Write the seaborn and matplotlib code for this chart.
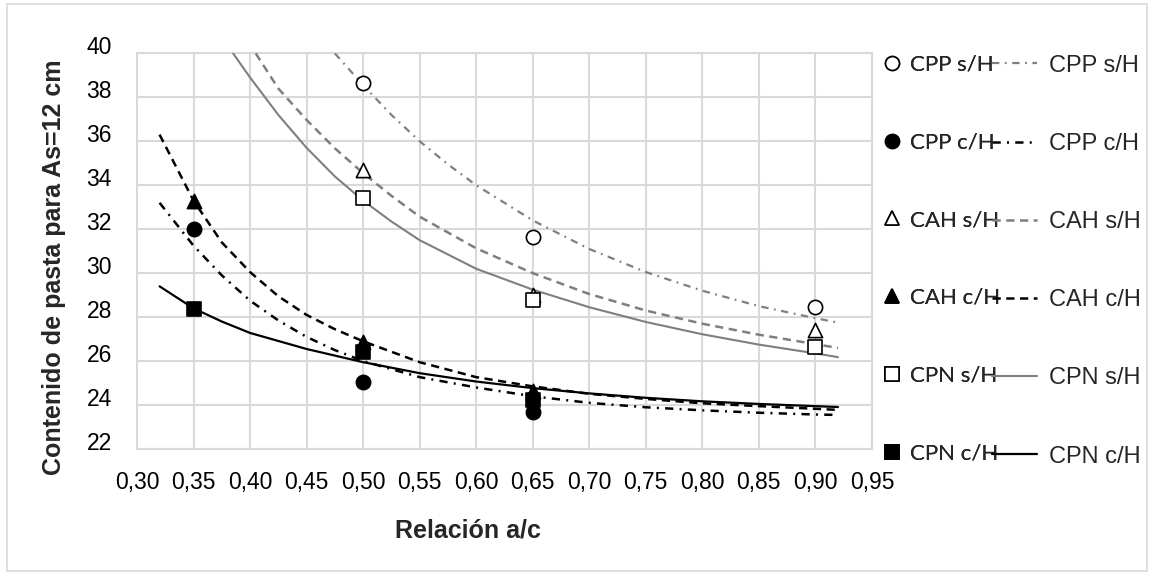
import matplotlib
matplotlib.use("Agg")
import matplotlib.pyplot as plt
import matplotlib.transforms as mtransforms
from matplotlib.lines import Line2D
from matplotlib.patches import Rectangle
from matplotlib.ticker import FuncFormatter
import pandas as pd
import seaborn as sns

sns.set_theme(style="whitegrid")
plt.rcParams['font.family'] = ['Liberation Sans', 'DejaVu Sans']

# measured points (a/c ratio, paste content)
cpp_sh_x = [0.50, 0.65, 0.90]
cpp_sh_y = [38.65, 31.65, 28.45]
cpp_ch_x = [0.35, 0.50, 0.65]
cpp_ch_y = [32.0, 25.05, 23.7]
cah_sh_x = [0.50, 0.65, 0.90]
cah_sh_y = [34.7, 29.0, 27.4]
cah_ch_x = [0.35, 0.50, 0.65]
cah_ch_y = [33.3, 26.85, 24.65]
cpn_sh_x = [0.50, 0.65, 0.90]
cpn_sh_y = [33.4, 28.8, 26.65]
cpn_ch_x = [0.35, 0.50, 0.65]
cpn_ch_y = [28.35, 26.4, 24.25]

# trend lines, values
tr_cpp_sh_x = [0.475, 0.50, 0.525, 0.55, 0.575, 0.60, 0.65, 0.70, 0.75, 0.80, 0.85, 0.90, 0.92]
tr_cpp_sh_y = [40.0, 38.55, 37.2, 36.0, 34.95, 34.0, 32.4, 31.1, 30.05, 29.2, 28.5, 27.95, 27.75]
tr_cah_sh_x = [0.405, 0.425, 0.45, 0.475, 0.50, 0.525, 0.55, 0.60, 0.65, 0.70, 0.75, 0.80, 0.85, 0.90, 0.92]
tr_cah_sh_y = [40.0, 38.4, 36.97, 35.68, 34.55, 33.52, 32.57, 31.13, 30.0, 29.05, 28.3, 27.7, 27.2, 26.77, 26.6]
tr_cpn_sh_x = [0.385, 0.40, 0.425, 0.45, 0.475, 0.50, 0.525, 0.55, 0.60, 0.65, 0.70, 0.75, 0.80, 0.85, 0.90, 0.92]
tr_cpn_sh_y = [40.0, 38.9, 37.2, 35.7, 34.4, 33.3, 32.35, 31.5, 30.2, 29.25, 28.45, 27.78, 27.22, 26.75, 26.35, 26.18]
tr_ch_x = [0.32, 0.35, 0.375, 0.40, 0.425, 0.45, 0.475, 0.50, 0.55, 0.60, 0.65, 0.70, 0.75, 0.80, 0.85, 0.90, 0.92]
tr_cah_ch_y = [36.3, 33.3, 31.4, 30.05, 28.95, 28.1, 27.45, 26.9, 25.95, 25.27, 24.85, 24.51, 24.28, 24.08, 23.95, 23.83, 23.78]
tr_cpp_ch_y = [33.2, 31.25, 29.9, 28.75, 27.85, 27.1, 26.5, 26.0, 25.27, 24.8, 24.4, 24.1, 23.9, 23.76, 23.65, 23.57, 23.55]
tr_cpn_ch_x = [0.32, 0.35, 0.375, 0.40, 0.45, 0.50, 0.55, 0.60, 0.65, 0.70, 0.75, 0.80, 0.85, 0.90, 0.92]
tr_cpn_ch_y = [29.4, 28.4, 27.8, 27.28, 26.55, 25.95, 25.45, 25.07, 24.77, 24.53, 24.33, 24.17, 24.05, 23.95, 23.91]

labels = ["CPP s/H", "CPP c/H", "CAH s/H", "CAH c/H", "CPN s/H", "CPN c/H"]
x_ticks = [0.30, 0.35, 0.40, 0.45, 0.50, 0.55, 0.60, 0.65, 0.70, 0.75, 0.80, 0.85, 0.90, 0.95]
y_ticks = [22, 24, 26, 28, 30, 32, 34, 36, 38, 40]

GRAY = "#7f7f7f"
GRID = "#d9d9d9"
DASH = (0, (3.3, 2.2))
DASHDOT = (0, (3.3, 2.5, 0.8, 2.5))

fig = plt.figure(figsize=(11.5, 5.75), dpi=100)
ax = fig.add_axes([0.1191, 0.2191, 0.6391, 0.6882])

trends = [
    (tr_cpp_sh_x, tr_cpp_sh_y, GRAY, DASHDOT, 1.6),
    (tr_ch_x, tr_cpp_ch_y, "black", DASHDOT, 1.8),
    (tr_cah_sh_x, tr_cah_sh_y, GRAY, DASH, 1.8),
    (tr_ch_x, tr_cah_ch_y, "black", DASH, 1.8),
    (tr_cpn_sh_x, tr_cpn_sh_y, GRAY, "-", 1.5),
    (tr_cpn_ch_x, tr_cpn_ch_y, "black", "-", 1.6),
]
for tx, ty, col, ls, lw in trends:
    df = pd.DataFrame({"x": tx, "y": ty})
    sns.lineplot(data=df, x="x", y="y", ax=ax, color=col, linestyle=ls, lw=lw, zorder=3)

points = [
    (cpp_sh_x, cpp_sh_y, "o", "white"),
    (cpp_ch_x, cpp_ch_y, "o", "black"),
    (cah_sh_x, cah_sh_y, "^", "white"),
    (cah_ch_x, cah_ch_y, "^", "black"),
    (cpn_sh_x, cpn_sh_y, "s", "white"),
    (cpn_ch_x, cpn_ch_y, "s", "black"),
]
for px, py, mk, fc in points:
    df = pd.DataFrame({"x": px, "y": py})
    sns.scatterplot(data=df, x="x", y="y", ax=ax, marker=mk, s=105,
                    facecolor=fc, edgecolor="black", linewidth=1.2, zorder=4)

ax.set_xlim(0.30, 0.95)
ax.set_ylim(22, 40)
ax.set_xticks(x_ticks)
ax.set_yticks(y_ticks)
ax.xaxis.set_major_formatter(FuncFormatter(lambda v, p: f"{v:.2f}".replace(".", ",")))
ax.grid(True, color=GRID, lw=1.5)
for sp in ax.spines.values():
    sp.set_color(GRID)
    sp.set_linewidth(1.5)
ax.tick_params(axis="x", length=0, pad=16, labelsize=16.5, colors="black")
ax.tick_params(axis="y", length=0, pad=18, labelsize=16.5, colors="black")
shift = mtransforms.ScaledTranslation(0, 0.08, fig.dpi_scale_trans)
for t in ax.yaxis.get_major_ticks():
    t.label1.set_transform(t.label1.get_transform() + shift)

ax.set_xlabel("Relación a/c", fontsize=18, fontweight="bold")
ax.set_ylabel("Contenido de pasta para As=12 cm", fontsize=18, fontweight="bold")
ax.xaxis.set_label_coords(0.45, -0.207)
ax.xaxis.label.set_va("center")
ax.yaxis.set_label_coords(-0.113, 0.46)
ax.yaxis.label.set_va("center")

# marker legend + trendline legend side by side
mk_handles = [Line2D([], [], ls="none", marker=mk, ms=10, mfc=fc, mec="black", mew=1.2)
              for _, _, mk, fc in points]
ln_handles = [Line2D([], [], color=col, linestyle=ls, lw=lw) for _, _, col, ls, lw in trends]

leg1 = fig.legend(mk_handles, labels, loc="upper left", bbox_to_anchor=(0.766, 0.905),
                  frameon=False, borderpad=0, borderaxespad=0, handlelength=1.0,
                  handletextpad=0.3, labelspacing=2.6, prop={"family": "Lato", "size": 16})
fig.legend(ln_handles, labels, loc="upper left", bbox_to_anchor=(0.8626, 0.905),
           frameon=False, borderpad=0, borderaxespad=0, handlelength=1.9, handletextpad=0.5,
           labelspacing=2.38, prop={"family": "Liberation Sans", "size": 17})
fig.add_artist(leg1)

fig.patches.append(Rectangle((0.0061, 0.007), 0.991, 0.986, transform=fig.transFigure,
                             fill=False, edgecolor=GRID, lw=1.2))

fig.savefig("out.png", dpi=100, facecolor="white")
